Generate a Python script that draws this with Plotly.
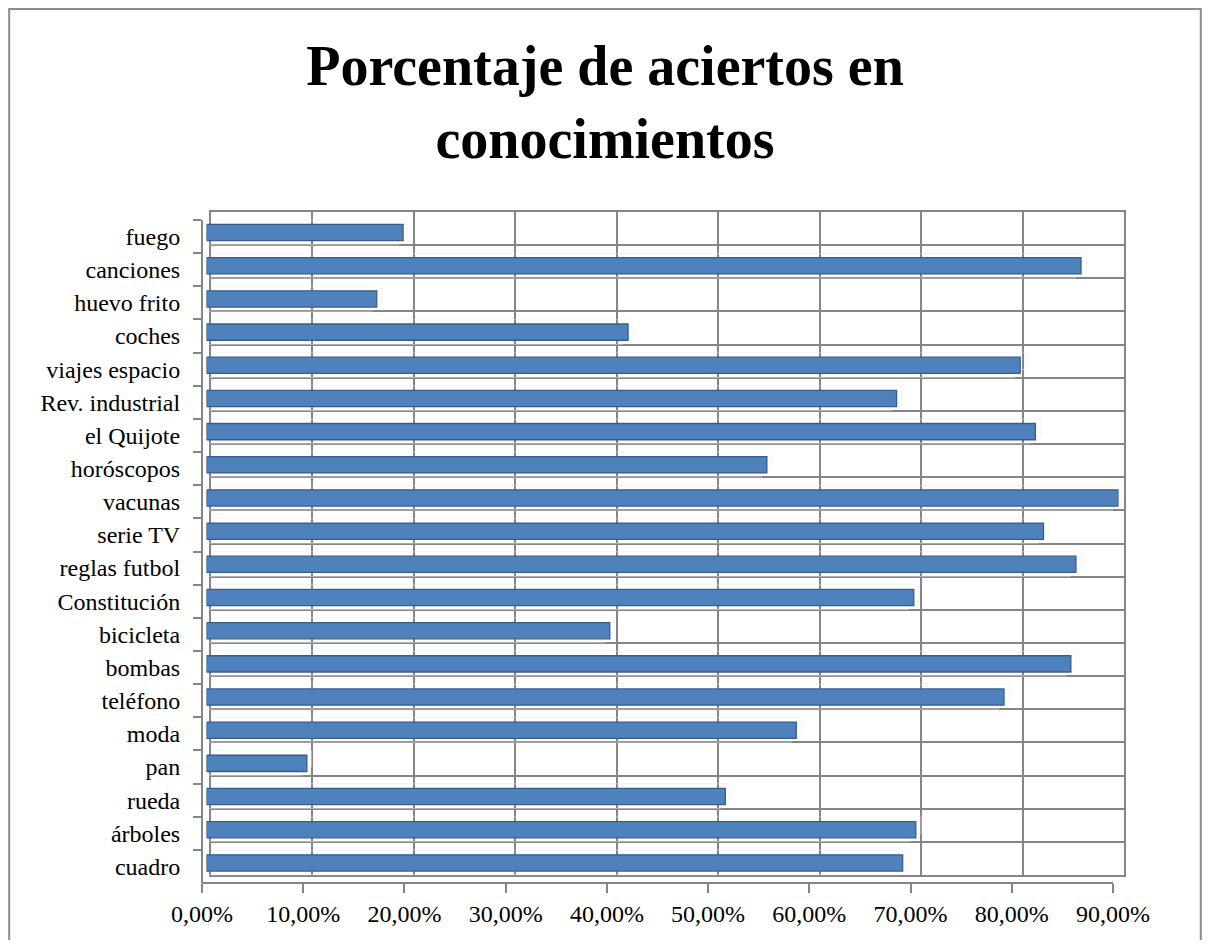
import plotly.graph_objects as go

# ── Data ────────────────────────────────────────────────
TEMAS = [
    "fuego", "canciones", "huevo frito", "coches", "viajes espacio",
    "Rev. industrial", "el Quijote", "horóscopos", "vacunas", "serie TV",
    "reglas futbol", "Constitución", "bicicleta", "bombas", "teléfono",
    "moda", "pan", "rueda", "árboles", "cuadro",
]
ACIERTOS_PCT = [
    19.4, 86.3, 16.8, 41.6, 80.3,
    68.1, 81.8, 55.3, 90.0, 82.6,
    85.8, 69.8, 39.8, 85.3, 78.7,
    58.2, 9.9, 51.2, 70.0, 68.7,
]
X_MAX = 0.9

# ── Style ───────────────────────────────────────────────
BAR_CLR  = "#4F81BD"
EDGE_CLR = "#385D8A"
GRID_CLR = "#858585"
FONT     = "Liberation Serif, Times New Roman, serif"

W, H = 1194, 932
OFF = 8  # page body margin


def fx(px):
    return (px - OFF) / W


def fy(py):
    return 1 - (py - OFF) / H


vals = [v / 100 for v in ACIERTOS_PCT]

fig = go.Figure()
# back wall (grid)
fig.add_trace(go.Bar(x=vals, y=TEMAS, orientation="h", xaxis="x", yaxis="y",
                     marker=dict(color="rgba(0,0,0,0)"), hoverinfo="skip",
                     showlegend=False))
# front axes (labels)
fig.add_trace(go.Bar(x=vals, y=TEMAS, orientation="h", xaxis="x2", yaxis="y2",
                     marker=dict(color="rgba(0,0,0,0)"), hoverinfo="skip",
                     showlegend=False))
# visible bars, mid depth
fig.add_trace(go.Bar(
    x=vals, y=TEMAS, orientation="h", xaxis="x3", yaxis="y3",
    width=0.49,
    marker=dict(color=BAR_CLR, line=dict(color=EDGE_CLR, width=1.3)),
    hovertemplate="<b>%{y}</b><br>%{x:.2%}<extra></extra>",
    showlegend=False,
))

cat_axis = dict(type="category", categoryorder="array", categoryarray=TEMAS,
                autorange="reversed", automargin=False)

fig.update_layout(
    width=W, height=H,
    margin=dict(l=0, r=0, t=0, b=0, autoexpand=False),
    paper_bgcolor="white",
    plot_bgcolor="rgba(0,0,0,0)",
    separators=",.",
    font=dict(family=FONT, color="black", size=24),
    title=dict(
        text="Porcentaje de aciertos en<br>conocimientos",
        font=dict(family=FONT, size=56, weight="bold", color="black"),
        x=0.5, xanchor="center", y=fy(85), yanchor="top", automargin=False,
    ),
    xaxis=dict(domain=[fx(211), fx(1124)], anchor="y", range=[0, X_MAX],
               dtick=0.1, showgrid=True, gridcolor=GRID_CLR, gridwidth=2,
               showticklabels=False, ticks="", zeroline=False,
               showline=True, mirror=True, linecolor=GRID_CLR, linewidth=2,
               automargin=False),
    yaxis=dict(domain=[fy(875), fy(212)], anchor="x", tickson="boundaries",
               showgrid=True, gridcolor=GRID_CLR, gridwidth=2,
               showticklabels=False, ticks="",
               showline=True, mirror=True, linecolor=GRID_CLR, linewidth=2,
               **cat_axis),
    xaxis2=dict(domain=[fx(202), fx(1113)], anchor="free", position=fy(883),
                range=[0, X_MAX], dtick=0.1, tickformat=".2%",
                showgrid=False, zeroline=False, ticks="outside", ticklen=9,
                tickwidth=2, tickcolor=GRID_CLR, showline=True,
                linecolor=GRID_CLR, linewidth=2, automargin=False,
                tickfont=dict(family=FONT, size=24, color="black")),
    yaxis2=dict(domain=[fy(883), fy(220)], anchor="free", position=fx(202),
                tickson="boundaries", showgrid=False, ticks="outside",
                ticklen=8, tickwidth=2, tickcolor=GRID_CLR, showline=True,
                linecolor=GRID_CLR, linewidth=2, ticklabelstandoff=16,
                tickfont=dict(family=FONT, size=24, color="black"),
                **cat_axis),
    xaxis3=dict(domain=[fx(206.5), fx(1118.5)], anchor="y3", range=[0, X_MAX],
                visible=False, automargin=False),
    yaxis3=dict(domain=[fy(879.5), fy(216)], anchor="x3", visible=False,
                **cat_axis),
    bargap=0.5,
    shapes=[dict(type="rect", xref="paper", yref="paper",
                 x0=0.001, x1=0.999, y0=-0.05, y1=0.999,
                 line=dict(color="#8c8c8c", width=2))],
)

fig.write_html("out.html")
